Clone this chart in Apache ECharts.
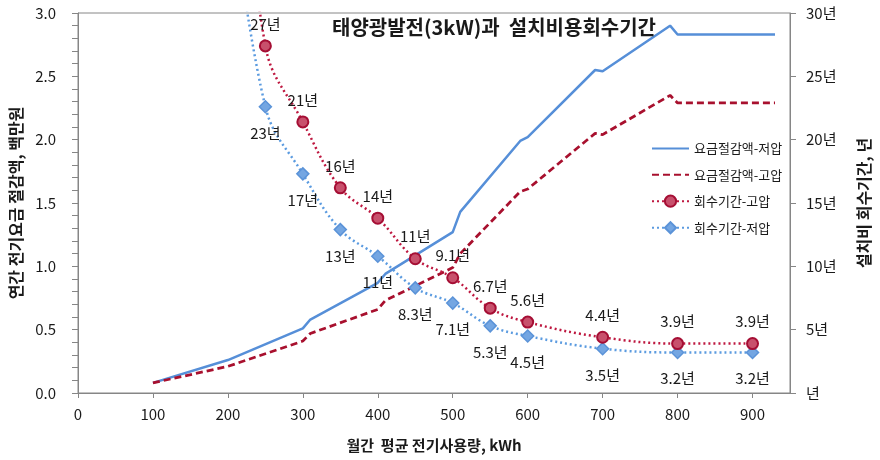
<!DOCTYPE html>
<html>
<head>
<meta charset="utf-8">
<script src="https://cdn.jsdelivr.net/npm/echarts@6/dist/echarts.min.js"></script>
<style>
  html, body { margin: 0; padding: 0; background: #fff; }
  #chart { width: 880px; height: 460px; }
</style>
</head>
<body>
<div id="chart"></div>
<script>
// Monthly usage (kWh) at which the annual bill savings are given
const usageKWh = [100, 200, 300, 310, 400, 410, 500, 510, 590, 600, 690, 700, 790, 800, 930];
// Annual bill savings, million KRW
const savingLowVoltage  = [0.08, 0.26, 0.51, 0.58, 0.87, 0.94, 1.27, 1.43, 1.99, 2.02, 2.55, 2.54, 2.90, 2.83, 2.83];
const savingHighVoltage = [0.08, 0.21, 0.41, 0.47, 0.66, 0.73, 0.99, 1.10, 1.59, 1.61, 2.05, 2.04, 2.35, 2.29, 2.29];

// Monthly usage (kWh) for the payback-period points
const paybackKWh = [200, 250, 300, 350, 400, 450, 500, 550, 600, 700, 800, 900];
// Payback period of the installation cost, years
const paybackHighVoltage = [55, 27.4, 21.4, 16.2, 13.8, 10.6, 9.1, 6.7, 5.6, 4.4, 3.9, 3.9];
const paybackLowVoltage  = [42, 22.6, 17.3, 12.9, 10.8, 8.3, 7.1, 5.3, 4.5, 3.5, 3.2, 3.2];

// Axis ticks
const xTicks = [0, 100, 200, 300, 400, 500, 600, 700, 800, 900];
const leftTicks = [0, 0.5, 1.0, 1.5, 2.0, 2.5, 3.0];
const rightTicks = [0, 5, 10, 15, 20, 25, 30];

const seriesNames = ['요금절감액-저압', '요금절감액-고압', '회수기간-고압', '회수기간-저압'];
const titleText = '태양광발전(3kW)과  설치비용회수기간';

const FONT = '"Noto Sans CJK KR", "Noto Sans", sans-serif';
const AXIS_GRAY = '#868686';

function pairs(xs, ys) { return xs.map((x, i) => [x, ys[i]]); }
function yearLabel(v) { return (v >= 10 ? Math.round(v) : v.toFixed(1)) + '년'; }
// Points that fall above the 30-year ceiling carry no marker or label
function paybackData(xs, ys) {
  return xs.map((x, i) => ys[i] > 30
    ? { value: [x, ys[i]], symbol: 'none', label: { show: false } }
    : { value: [x, ys[i]] });
}

const chart = echarts.init(document.getElementById('chart'), null, { renderer: 'canvas' });

chart.setOption({
  animation: false,
  backgroundColor: '#ffffff',
  textStyle: { fontFamily: FONT },
  title: {
    text: titleText,
    left: 489,
    top: 12,
    textAlign: 'center',
    textStyle: { fontFamily: FONT, fontSize: 20, fontWeight: 'bold', color: '#1a1a1a' }
  },
  grid: {
    left: 78, right: 77, top: 13, bottom: 67,
    show: true, borderColor: AXIS_GRAY, borderWidth: 1, backgroundColor: 'transparent'
  },
  legend: {
    orient: 'vertical',
    left: 646,
    top: 137,
    itemWidth: 37,
    itemHeight: 14,
    itemGap: 13.3,
    textStyle: { fontFamily: FONT, fontSize: 13, color: '#1a1a1a' },
    data: [
      { name: seriesNames[0], itemStyle: { opacity: 0 } },
      { name: seriesNames[1], itemStyle: { opacity: 0 } },
      { name: seriesNames[2] },
      { name: seriesNames[3] }
    ]
  },
  xAxis: {
    type: 'value',
    min: 0,
    max: 950,
    interval: 100,
    name: '월간  평균 전기사용량, kWh',
    nameLocation: 'middle',
    nameGap: 45,
    nameTextStyle: { fontFamily: FONT, fontSize: 15, fontWeight: 'bold', color: '#1a1a1a' },
    axisLine: { show: true, lineStyle: { color: AXIS_GRAY, width: 1 } },
    axisTick: { show: true, inside: false, length: 5, lineStyle: { color: AXIS_GRAY }, customValues: xTicks },
    axisLabel: { fontFamily: FONT, fontSize: 15, color: '#1a1a1a', margin: 14, customValues: xTicks },
    splitLine: { show: false }
  },
  yAxis: [
    {
      type: 'value',
      min: 0,
      max: 3,
      interval: 0.5,
      position: 'left',
      name: '연간 전기요금 절감액, 백만원',
      nameLocation: 'middle',
      nameRotate: 90,
      nameGap: 52,
      nameTextStyle: { fontFamily: FONT, fontSize: 16, fontWeight: 'bold', color: '#1a1a1a' },
      axisLine: { show: true, lineStyle: { color: AXIS_GRAY, width: 1 } },
      axisTick: { show: true, inside: false, length: 6, lineStyle: { color: AXIS_GRAY } },
      minorTick: { show: true, splitNumber: 5, length: 6, lineStyle: { color: AXIS_GRAY } },
      axisLabel: {
        fontFamily: FONT, fontSize: 15, color: '#1a1a1a', margin: 22,
        formatter: v => leftTicks.includes(+v.toFixed(1)) ? v.toFixed(1) : ''
      },
      splitLine: { show: false },
      minorSplitLine: { show: false }
    },
    {
      type: 'value',
      min: 0,
      max: 30,
      interval: 5,
      position: 'right',
      name: '설치비 회수기간, 년',
      nameLocation: 'middle',
      nameRotate: 90,
      nameGap: 66,
      nameTextStyle: { fontFamily: FONT, fontSize: 16, fontWeight: 'bold', color: '#1a1a1a' },
      axisLine: { show: true, lineStyle: { color: AXIS_GRAY, width: 1 } },
      axisTick: { show: true, inside: false, length: 6, lineStyle: { color: AXIS_GRAY } },
      axisLabel: {
        fontFamily: FONT, fontSize: 15, color: '#1a1a1a', margin: 16,
        formatter: v => rightTicks.includes(v) ? (v === 0 ? '년' : v + '년') : ''
      },
      splitLine: { show: false }
    }
  ],
  series: [
    {
      name: seriesNames[0],
      type: 'line',
      yAxisIndex: 0,
      data: pairs(usageKWh, savingLowVoltage),
      symbol: 'none',
      showSymbol: false,
      lineStyle: { color: '#568FD8', width: 2.5, type: 'solid' },
      itemStyle: { color: '#568FD8' },
      z: 2
    },
    {
      name: seriesNames[1],
      type: 'line',
      yAxisIndex: 0,
      data: pairs(usageKWh, savingHighVoltage),
      symbol: 'none',
      showSymbol: false,
      lineStyle: { color: '#A8102E', width: 2.75, type: [7, 4] },
      itemStyle: { color: '#A8102E' },
      z: 2
    },
    {
      name: seriesNames[2],
      type: 'line',
      yAxisIndex: 1,
      data: paybackData(paybackKWh, paybackHighVoltage),
      smooth: 0.4,
      clip: true,
      symbol: 'circle',
      symbolSize: 11,
      lineStyle: { color: '#BE1840', width: 2.5, type: [2, 3] },
      itemStyle: { color: '#C8506C', borderColor: '#A50E34', borderWidth: 2 },
      label: {
        show: true,
        position: 'top',
        distance: 8,
        fontFamily: FONT,
        fontSize: 15,
        color: '#1a1a1a',
        formatter: p => yearLabel(p.value[1])
      },
      z: 4
    },
    {
      name: seriesNames[3],
      type: 'line',
      yAxisIndex: 1,
      data: paybackData(paybackKWh, paybackLowVoltage),
      smooth: 0.4,
      clip: true,
      symbol: 'diamond',
      symbolSize: 12,
      lineStyle: { color: '#5B9BE0', width: 2.5, type: [2, 3] },
      itemStyle: { color: '#74A6E2', borderColor: '#5B93D8', borderWidth: 1.5 },
      label: {
        show: true,
        position: 'bottom',
        distance: 12,
        fontFamily: FONT,
        fontSize: 15,
        color: '#1a1a1a',
        formatter: p => yearLabel(p.value[1])
      },
      z: 3
    }
  ]
});
</script>
</body>
</html>
